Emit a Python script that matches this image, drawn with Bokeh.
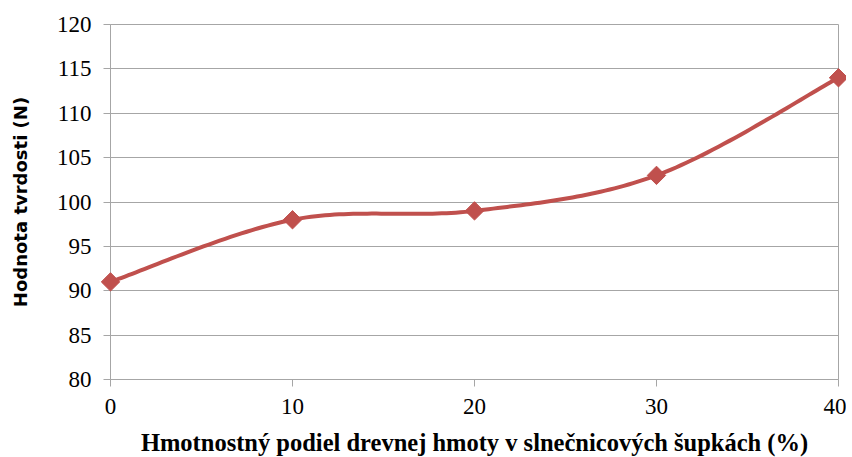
import numpy as np
from bokeh.plotting import figure
from bokeh.models import Range1d, FixedTicker
from bokeh.embed import file_html
from bokeh.resources import INLINE

x_vals = [0, 10, 20, 30, 40]
y_vals = [91, 98, 99, 103, 114]
y_ticks = [80, 85, 90, 95, 100, 105, 110, 115, 120]
x_ticks = [0, 10, 20, 30, 40]

x_label = "Hmotnostný podiel drevnej hmoty v slnečnicových šupkách (%)"
y_label = "Hodnota tvrdosti (N)"

RED = "#C0504D"
GRAY = "#A6A6A6"

# smoothed line (Catmull-Rom style Bezier, as in spreadsheet "smoothed line")
P = np.column_stack([x_vals, y_vals]).astype(float)
n = len(P)
xs_s, ys_s = [], []
for i in range(n - 1):
    p0 = P[i - 1] if i > 0 else P[i]
    p1 = P[i]
    p2 = P[i + 1]
    p3 = P[i + 2] if i + 2 < n else P[i + 1]
    c1 = p1 + (p2 - p0) / 6.0
    c2 = p2 - (p3 - p1) / 6.0
    t = np.linspace(0, 1, 40)[:, None]
    pts = ((1 - t) ** 3) * p1 + 3 * ((1 - t) ** 2) * t * c1 + 3 * (1 - t) * t ** 2 * c2 + t ** 3 * p2
    if i > 0:
        pts = pts[1:]
    xs_s.extend(pts[:, 0].tolist())
    ys_s.extend(pts[:, 1].tolist())

p = figure(frame_width=728, frame_height=355, output_backend="svg", toolbar_location=None,
           x_range=Range1d(0, 40), y_range=Range1d(80, 120),
           min_border_left=110, min_border_right=8, min_border_top=24, min_border_bottom=0)

p.background_fill_color = "white"
p.border_fill_color = "white"
p.outline_line_color = GRAY
p.outline_line_width = 1

p.xgrid.grid_line_color = None
p.ygrid.grid_line_color = GRAY
p.ygrid.grid_line_width = 1

for ax in (p.xaxis[0], p.yaxis[0]):
    ax.axis_line_color = GRAY
    ax.major_tick_line_color = GRAY
    ax.major_tick_in = 0
    ax.major_tick_out = 7
    ax.minor_tick_line_color = None
    ax.major_label_text_font = "Liberation Serif"
    ax.major_label_text_font_size = "23px"
    ax.major_label_text_color = "black"
    ax.major_label_text_font_style = "normal"

p.xaxis.ticker = FixedTicker(ticks=x_ticks)
p.yaxis.ticker = FixedTicker(ticks=y_ticks)
p.xaxis.major_label_standoff = 12
p.yaxis.major_label_standoff = 12

p.xaxis.axis_label = x_label
p.xaxis.axis_label_text_font = "Liberation Serif"
p.xaxis.axis_label_text_font_style = "bold"
p.xaxis.axis_label_text_font_size = "24.5px"
p.xaxis.axis_label_text_color = "black"
p.xaxis.axis_label_standoff = 12

p.yaxis.axis_label = y_label
p.yaxis.axis_label_text_font = "DejaVu Sans"
p.yaxis.axis_label_text_font_style = "bold"
p.yaxis.axis_label_text_font_size = "18px"
p.yaxis.axis_label_text_color = "black"
p.yaxis.axis_label_standoff = 23

line_r = p.line(xs_s, ys_s, line_color=RED, line_width=4, line_join="round", line_cap="round")
line_r.level = "overlay"
sc = p.scatter(x_vals, y_vals, marker="square", size=13, angle=np.pi / 4,
               fill_color=RED, line_color=RED, line_width=1)
sc.level = "overlay"

open("out.html", "w").write(file_html(p, INLINE))
